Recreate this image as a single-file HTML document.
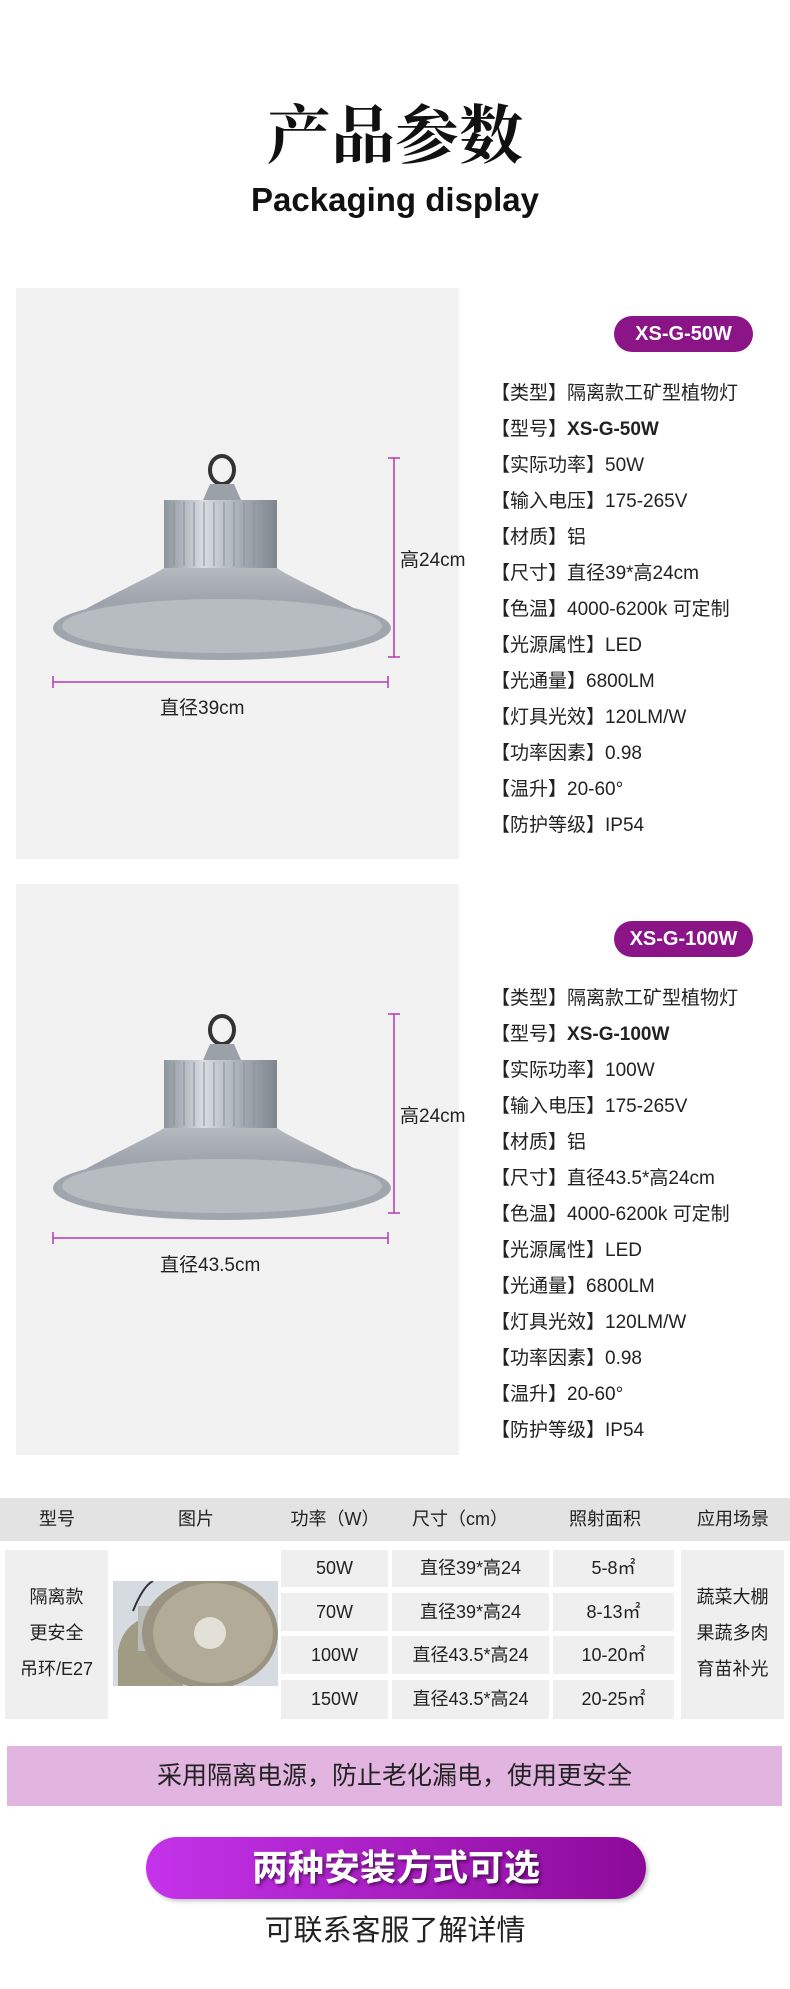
<!DOCTYPE html>
<html><head><meta charset="utf-8"><style>
*{margin:0;padding:0;box-sizing:border-box}
body{width:790px;height:1989px;background:#fff;position:relative;font-family:"Liberation Sans","Noto Sans CJK SC",sans-serif;color:#222;overflow:hidden}
.a{position:absolute}
.t1{left:0;width:790px;top:100px;text-align:center;font-family:"Liberation Serif","Noto Serif CJK SC",serif;font-weight:bold;font-size:64px;line-height:74px;color:#111}
.t2{left:0;width:790px;top:180px;text-align:center;font-weight:bold;font-size:33px;line-height:40px;color:#111}
.panel{left:16px;width:443px;height:571px;background:#f2f2f2}
.badge{left:614px;width:139px;height:36px;border-radius:18px;background:#8b1487;color:#fff;font-weight:bold;font-size:20px;line-height:36px;text-align:center}
.spec{left:491px;font-size:19px;line-height:36px;color:#222;white-space:nowrap}
.dim{font-size:19px;color:#222;white-space:nowrap}
.th{top:1498px;height:43px;left:0;width:790px;background:#e3e3e3}
.thc{top:1498px;line-height:43px;font-size:18px;text-align:center;color:#222}
.cell{background:#efefef;text-align:center;font-size:18px;color:#222}
</style></head><body>
<div class="a t1">产品参数</div>
<div class="a t2">Packaging display</div>

<!-- panel 1 -->
<div class="a panel" style="top:288px"></div>
<div class="a badge" style="top:316px">XS-G-50W</div>
<div class="a spec" style="top:376px">【类型】隔离款工矿型植物灯<br>【型号】<b>XS-G-50W</b><br>【实际功率】50W<br>【输入电压】175-265V<br>【材质】铝<br>【尺寸】直径39*高24cm<br>【色温】4000-6200k 可定制<br>【光源属性】LED<br>【光通量】6800LM<br>【灯具光效】120LM/W<br>【功率因素】0.98<br>【温升】20-60°<br>【防护等级】IP54</div>
<svg class="a" style="left:0;top:288px" width="470" height="571">
<defs><linearGradient id="fin" x1="0" x2="1"><stop offset="0" stop-color="#8d949c"/><stop offset=".35" stop-color="#d8dde2"/><stop offset=".7" stop-color="#a3aab2"/><stop offset="1" stop-color="#7f868e"/></linearGradient>
<linearGradient id="sh" x1="0" x2="0" y1="0" y2="1"><stop offset="0" stop-color="#b4bac0"/><stop offset="1" stop-color="#8c9299"/></linearGradient></defs>
<g id="lamp1">
<ellipse cx="222" cy="182" rx="12" ry="14" fill="none" stroke="#333" stroke-width="4"/>
<path d="M203 212 L210 196 L234 196 L241 212 Z" fill="#9aa1a8"/>
<rect x="164" y="212" width="113" height="68" fill="url(#fin)"/>
<g stroke="#8a9098" stroke-width="1">
<line x1="174" y1="214" x2="174" y2="278"/><line x1="184" y1="214" x2="184" y2="278"/><line x1="194" y1="214" x2="194" y2="278"/><line x1="204" y1="214" x2="204" y2="278"/><line x1="214" y1="214" x2="214" y2="278"/><line x1="224" y1="214" x2="224" y2="278"/><line x1="234" y1="214" x2="234" y2="278"/><line x1="244" y1="214" x2="244" y2="278"/><line x1="254" y1="214" x2="254" y2="278"/><line x1="264" y1="214" x2="264" y2="278"/></g>
<path d="M164 280 C150 290 90 315 55 340 L388 340 C350 315 290 290 277 280 Z" fill="url(#sh)"/>
<ellipse cx="222" cy="340" rx="169" ry="32" fill="#a0a6ad"/>
<ellipse cx="222" cy="338" rx="160" ry="27" fill="#b7bcc1"/>
</g>
<line x1="394" y1="170" x2="394" y2="369" stroke="#b23ab0" stroke-width="1.5"/>
<line x1="388" y1="170" x2="400" y2="170" stroke="#b23ab0" stroke-width="1.5"/>
<line x1="388" y1="369" x2="400" y2="369" stroke="#b23ab0" stroke-width="1.5"/>
<line x1="53" y1="394" x2="388" y2="394" stroke="#b23ab0" stroke-width="1.5"/>
<line x1="53" y1="388" x2="53" y2="400" stroke="#b23ab0" stroke-width="1.5"/>
<line x1="388" y1="388" x2="388" y2="400" stroke="#b23ab0" stroke-width="1.5"/>
</svg>
<div class="a dim" style="left:400px;top:545px">高24cm</div>
<div class="a dim" style="left:160px;top:693px">直径39cm</div>

<!-- panel 2 -->
<div class="a panel" style="top:884px"></div>
<div class="a badge" style="top:921px">XS-G-100W</div>
<div class="a spec" style="top:981px">【类型】隔离款工矿型植物灯<br>【型号】<b>XS-G-100W</b><br>【实际功率】100W<br>【输入电压】175-265V<br>【材质】铝<br>【尺寸】直径43.5*高24cm<br>【色温】4000-6200k 可定制<br>【光源属性】LED<br>【光通量】6800LM<br>【灯具光效】120LM/W<br>【功率因素】0.98<br>【温升】20-60°<br>【防护等级】IP54</div>
<svg class="a" style="left:0;top:884px" width="470" height="571">
<use href="#lamp1" transform="translate(0,-36)"/>
<line x1="394" y1="130" x2="394" y2="329" stroke="#b23ab0" stroke-width="1.5"/>
<line x1="388" y1="130" x2="400" y2="130" stroke="#b23ab0" stroke-width="1.5"/>
<line x1="388" y1="329" x2="400" y2="329" stroke="#b23ab0" stroke-width="1.5"/>
<line x1="53" y1="354" x2="388" y2="354" stroke="#b23ab0" stroke-width="1.5"/>
<line x1="53" y1="348" x2="53" y2="360" stroke="#b23ab0" stroke-width="1.5"/>
<line x1="388" y1="348" x2="388" y2="360" stroke="#b23ab0" stroke-width="1.5"/>
</svg>
<div class="a dim" style="left:400px;top:1101px">高24cm</div>
<div class="a dim" style="left:160px;top:1250px">直径43.5cm</div>

<!-- table -->
<div class="a th"></div>
<div class="a thc" style="left:17px;width:80px">型号</div>
<div class="a thc" style="left:156px;width:80px">图片</div>
<div class="a thc" style="left:275px;width:120px">功率（W）</div>
<div class="a thc" style="left:400px;width:120px">尺寸（cm）</div>
<div class="a thc" style="left:555px;width:100px">照射面积</div>
<div class="a thc" style="left:688px;width:90px">应用场景</div>

<div class="a cell" style="left:5px;top:1550px;width:103px;height:169px;line-height:36px;padding-top:29px">隔离款<br>更安全<br>吊环/E27</div>
<svg class="a" style="left:113px;top:1581px" width="165" height="105">
<rect width="165" height="105" fill="#d6dbe2"/>
<path d="M5 105 L5 70 Q10 40 40 35 L60 30 L70 105 Z" fill="#a19a85"/>
<rect x="25" y="25" width="35" height="45" fill="#b9bbb8"/>
<path d="M20 30 Q30 5 40 0" stroke="#333" stroke-width="2" fill="none"/>
<ellipse cx="97" cy="52" rx="68" ry="56" fill="#9a9381"/>
<ellipse cx="100" cy="52" rx="60" ry="50" fill="#b2ab97"/>
<circle cx="97" cy="52" r="16" fill="#e3e0d8"/>
</svg>
<div class="a cell" style="left:281px;top:1550px;width:107px;height:37px;line-height:37px">50W</div>
<div class="a cell" style="left:392px;top:1550px;width:157px;height:37px;line-height:37px">直径39*高24</div>
<div class="a cell" style="left:553px;top:1550px;width:121px;height:37px;line-height:37px">5-8㎡</div>
<div class="a cell" style="left:281px;top:1593px;width:107px;height:38px;line-height:38px">70W</div>
<div class="a cell" style="left:392px;top:1593px;width:157px;height:38px;line-height:38px">直径39*高24</div>
<div class="a cell" style="left:553px;top:1593px;width:121px;height:38px;line-height:38px">8-13㎡</div>
<div class="a cell" style="left:281px;top:1636px;width:107px;height:38px;line-height:38px">100W</div>
<div class="a cell" style="left:392px;top:1636px;width:157px;height:38px;line-height:38px">直径43.5*高24</div>
<div class="a cell" style="left:553px;top:1636px;width:121px;height:38px;line-height:38px">10-20㎡</div>
<div class="a cell" style="left:281px;top:1680px;width:107px;height:39px;line-height:39px">150W</div>
<div class="a cell" style="left:392px;top:1680px;width:157px;height:39px;line-height:39px">直径43.5*高24</div>
<div class="a cell" style="left:553px;top:1680px;width:121px;height:39px;line-height:39px">20-25㎡</div>
<div class="a cell" style="left:681px;top:1550px;width:103px;height:169px;line-height:36px;padding-top:29px">蔬菜大棚<br>果蔬多肉<br>育苗补光</div>

<div class="a" style="left:7px;top:1746px;width:775px;height:60px;background:#e2b5e0;text-align:center;font-size:25px;line-height:60px;color:#222">采用隔离电源，防止老化漏电，使用更安全</div>

<div class="a" style="left:146px;top:1837px;width:500px;height:62px;border-radius:31px;background:linear-gradient(90deg,#c433ea,#8c0a99);box-shadow:2px 2px 4px rgba(0,0,0,.25);text-align:center;font-size:36px;font-weight:bold;line-height:62px;color:#fff;text-shadow:2px 2px 3px rgba(0,0,0,.5)">两种安装方式可选</div>
<div class="a" style="left:0;width:790px;top:1912px;text-align:center;font-size:29px;line-height:38px;color:#222">可联系客服了解详情</div>
</body></html>
